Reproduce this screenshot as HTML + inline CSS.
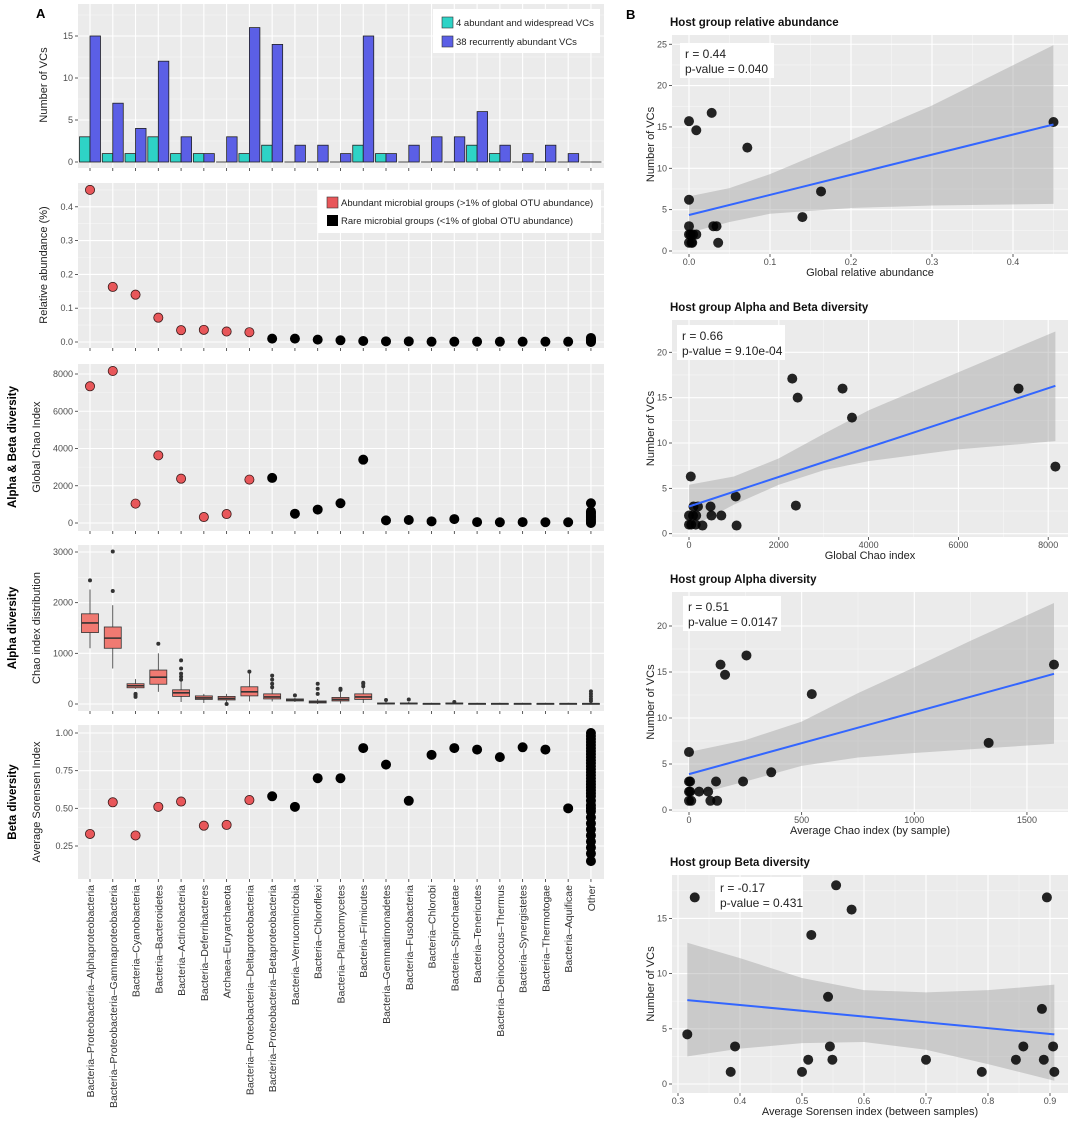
<!DOCTYPE html>
<html><head><meta charset="utf-8">
<style>
html,body{margin:0;padding:0;background:#fff;}
svg{display:block;font-family:"Liberation Sans",Arial,sans-serif;}
</style></head>
<body>
<svg id="fig" width="1080" height="1138" viewBox="0 0 1080 1138" xmlns="http://www.w3.org/2000/svg"></svg>
<script>
// ---------- DATA: panel A ----------
const categories=["Bacteria\u2013Proteobacteria\u2013Alphaproteobacteria","Bacteria\u2013Proteobacteria\u2013Gammaproteobacteria","Bacteria\u2013Cyanobacteria","Bacteria\u2013Bacteroidetes","Bacteria\u2013Actinobacteria","Bacteria\u2013Deferribacteres","Archaea\u2013Euryarchaeota","Bacteria\u2013Proteobacteria\u2013Deltaproteobacteria","Bacteria\u2013Proteobacteria\u2013Betaproteobacteria","Bacteria\u2013Verrucomicrobia","Bacteria\u2013Chloroflexi","Bacteria\u2013Planctomycetes","Bacteria\u2013Firmicutes","Bacteria\u2013Gemmatimonadetes","Bacteria\u2013Fusobacteria","Bacteria\u2013Chlorobi","Bacteria\u2013Spirochaetae","Bacteria\u2013Tenericutes","Bacteria\u2013Deinococcus\u2013Thermus","Bacteria\u2013Synergistetes","Bacteria\u2013Thermotogae","Bacteria\u2013Aquificae","Other"];
const abundantVCs=[3,1,1,3,1,1,0,1,2,0,0,0,2,1,0,0,0,2,1,0,0,0,0];
const recurrentVCs=[15,7,4,12,3,1,3,16,14,2,2,1,15,1,2,3,3,6,2,1,2,1,0];
const isAbundant=[1,1,1,1,1,1,1,1,0,0,0,0,0,0,0,0,0,0,0,0,0,0,0];
const relAbundance=[0.45,0.163,0.14,0.072,0.035,0.036,0.031,0.029,0.01,0.01,0.007,0.005,0.003,0.002,0.002,0.001,0.001,0.001,0.001,0.001,0.001,0.001];
const relAbundanceOther=[0,0.002,0.004,0.006,0.008,0.01,0.012];
const globalChao=[7340,8160,1040,3630,2380,320,480,2330,2420,500,720,1060,3400,140,160,90,210,50,40,50,40,40];
const globalChaoOther=[0,60,120,200,280,350,420,500,560,620,1060];
const boxQ1=[1410,1100,320,390,150,90,80,160,100,60,20,60,90,5,5,3,5,3,3,3,3,3,3];
const boxMed=[1600,1300,360,530,220,120,110,240,140,80,40,90,140,10,10,6,10,6,6,6,6,6,6];
const boxQ3=[1780,1520,400,670,280,160,150,340,200,100,60,130,200,20,20,12,20,12,12,12,12,12,12];
const boxLo=[1100,700,300,240,40,20,20,50,50,40,0,10,20,0,0,0,0,0,0,0,0,0,0];
const boxHi=[2260,1950,490,1000,450,200,200,620,300,120,100,250,320,40,40,25,40,25,25,25,25,25,30];
const boxOut=[[2440],[2230,3010],[140,180,200],[1190],[480,540,600,700,860],[],[0],[640],[330,400,480,560],[170],[200,300,400],[280,300],[350,400,420],[80],[90],[],[40],[],[],[],[],[],[60,100,150,200,250]];
const sorensen=[0.33,0.54,0.32,0.51,0.545,0.385,0.39,0.555,0.58,0.51,0.70,0.70,0.90,0.79,0.55,0.855,0.90,0.89,0.84,0.905,0.89,0.50];
const sorensenOther=[0.15,0.2,0.24,0.28,0.32,0.36,0.4,0.44,0.48,0.5,0.52,0.55,0.58,0.6,0.62,0.64,0.66,0.68,0.7,0.72,0.74,0.76,0.78,0.8,0.82,0.84,0.86,0.88,0.9,0.92,0.94,0.96,0.98,1.0];
// ---------- DATA: panel B ----------
const b1X=[0,0.009,0.028,0.072,0,0.163,0.14,0.45,0,0,0,0.003,0.005,0.009,0.03,0.034,0.036,0.002,0.004];
const b1Y=[15.7,14.6,16.7,12.5,6.2,7.2,4.1,15.6,3,2,1,1,2,2,3,3,1,2,1];
const b1Fit=[4.35,15.3];
const b1BandX=[0,0.05,0.1,0.2,0.3,0.45];
const b1BandLo=[2.2,3.5,4.5,5.2,5.5,5.7];
const b1BandHi=[6.6,7.6,9.3,13.4,17.6,24.9];
const b2X=[2300,3420,2420,3630,7340,8160,2380,1040,1060,40,100,200,480,500,720,160,0,0,50,150,300,90];
const b2Y=[17.1,16,15,12.8,16,7.4,3.1,4.1,0.9,6.3,3,3,3,2,2,2,2,1,1,1,0.9,2];
const b2Fit=[3,16.3];
const b2BandX=[0,1000,2000,3000,4000,6000,8160];
const b2BandLo=[0.6,3.2,5.4,7,8,9.3,10.2];
const b2BandHi=[5.4,6.3,8.3,11,13.6,17.8,22.3];
const b3X=[0,140,160,255,545,1620,1330,365,240,120,0,5,0,5,45,85,0,10,95,125];
const b3Y=[6.3,15.8,14.7,16.8,12.6,15.8,7.3,4.1,3.1,3.1,3.1,3.1,2,2,2,2,1,1,1,1];
const b3Fit=[3.9,14.8];
const b3BandX=[0,250,500,750,1000,1250,1620];
const b3BandLo=[1.5,3.1,4.8,5.7,6.2,6.6,7.2];
const b3BandHi=[6.3,7.6,9.6,12.7,15.5,18.4,22.5];
const b4X=[0.315,0.327,0.385,0.392,0.5,0.51,0.515,0.542,0.545,0.549,0.555,0.58,0.70,0.79,0.845,0.857,0.887,0.89,0.895,0.905,0.907];
const b4Y=[4.5,16.9,1.1,3.4,1.1,2.2,13.5,7.9,3.4,2.2,18,15.8,2.2,1.1,2.2,3.4,6.8,2.2,16.9,3.4,1.1];
const b4Fit=[7.6,4.5];
const b4BandX=[0.315,0.4,0.5,0.6,0.7,0.8,0.907];
const b4BandLo=[2.5,3.2,3.7,3.8,3.1,1.8,0.3];
const b4BandHi=[12.8,11.4,9.6,8.5,8.3,8.5,9.0];

// ---------- helpers ----------
const NS="http://www.w3.org/2000/svg";
const svg=document.getElementById('fig');
function el(tag,attrs,parent,txt){const e=document.createElementNS(NS,tag);for(const k in attrs)e.setAttribute(k,attrs[k]);if(txt!==undefined)e.textContent=txt;(parent||svg).appendChild(e);return e;}
const RED="#E8575A",CYAN="#2ED3C6",BLUE="#5B5FE6",BG="#EBEBEB";
const LX0=78,LX1=604,CX0=90,CSTEP=22.77;
const cx=i=>CX0+i*CSTEP;

function leftPanel(name,top,bot,yf,ticks,labels,minor){
  const g=el('g',{},svg);
  
  el('rect',{x:LX0,y:top,width:LX1-LX0,height:bot-top,fill:BG},g);
  minor.forEach(v=>{const y=yf(v);if(y>top&&y<bot)el('line',{x1:LX0,x2:LX1,y1:y,y2:y,stroke:"#F6F6F6","stroke-width":0.6},g);});
  ticks.forEach((v,i)=>{const y=yf(v);el('line',{x1:LX0,x2:LX1,y1:y,y2:y,stroke:"#fff","stroke-width":1.1},g);
    el('line',{x1:LX0-3,x2:LX0,y1:y,y2:y,stroke:"#333","stroke-width":0.8},g);
    const t=el('text',{x:LX0-5,y:y+3,"text-anchor":"end","font-size":9,fill:"#4D4D4D"},g,labels[i]);
    });
  categories.forEach((c,i)=>{el('line',{x1:cx(i),x2:cx(i),y1:top,y2:bot,stroke:"#fff","stroke-width":1.1},g);
    el('line',{x1:cx(i),x2:cx(i),y1:bot,y2:bot+3,stroke:"#333","stroke-width":0.8},g);});
  return g;
}
function ytitle(txt,x,yc,bold,name,size){const t=el('text',{x:x,y:yc,"text-anchor":"middle","font-size":size||11,"font-weight":bold?"bold":"normal",fill:bold?"#000":"#222",transform:`rotate(-90 ${x} ${yc})`},svg,txt);}
function dot(g,x,y,red,name){const c=el('circle',{cx:x,cy:y,r:4.6,fill:red?RED:"#000",stroke:red?"#3a1a1a":"#000","stroke-width":0.8},g);}

el('text',{x:36,y:18,"font-size":13,"font-weight":"bold"},svg,"A");
el('text',{x:626,y:19,"font-size":13,"font-weight":"bold"},svg,"B");

// ---- Panel 1: bars ----
(function(){
  const yf=v=>162-8.4*v;
  const g=leftPanel('vc-bar-panel',4,168,yf,[0,5,10,15],["0","5","10","15"],[2.5,7.5,12.5,17.5]);
  categories.forEach((c,i)=>{
    const y0=yf(0);
    if(abundantVCs[i]>0){
      const r1=el('rect',{x:cx(i)-10.5,y:yf(abundantVCs[i]),width:10.5,height:y0-yf(abundantVCs[i]),fill:CYAN,stroke:"#222","stroke-width":0.8},g);
      
    } else {
      const l1=el('line',{x1:cx(i)-10.5,x2:cx(i),y1:y0,y2:y0,stroke:"#222","stroke-width":0.8},g);
      
    }
    if(recurrentVCs[i]>0){
      const r2=el('rect',{x:cx(i),y:yf(recurrentVCs[i]),width:10.5,height:y0-yf(recurrentVCs[i]),fill:BLUE,stroke:"#222","stroke-width":0.8},g);
      
    } else {
      const l2=el('line',{x1:cx(i),x2:cx(i)+10.5,y1:y0,y2:y0,stroke:"#222","stroke-width":0.8},g);
      
    }
  });
  const lg=el('g',{},svg);
  el('rect',{x:433,y:9,width:167,height:44,fill:"#fff"},lg);
  el('rect',{x:442,y:17,width:11,height:11,fill:CYAN,stroke:"#333","stroke-width":0.6},lg);
  el('rect',{x:442,y:36,width:11,height:11,fill:BLUE,stroke:"#333","stroke-width":0.6},lg);
  el('text',{x:456,y:26,"font-size":9.5,fill:"#222"},lg,"4 abundant and widespread VCs");
  el('text',{x:456,y:45,"font-size":9.5,fill:"#222"},lg,"38 recurrently abundant VCs");
  ytitle("Number of VCs",47,85,false,'bar-y-title');
})();

// ---- Panel 2: relative abundance ----
(function(){
  const yf=v=>342-338*v;
  const g=leftPanel('rel-abundance-panel',183,348,yf,[0,0.1,0.2,0.3,0.4],["0.0","0.1","0.2","0.3","0.4"],[0.05,0.15,0.25,0.35,0.45]);
  relAbundance.forEach((v,i)=>dot(g,cx(i),yf(v),isAbundant[i],'rel-abund-point'));
  relAbundanceOther.forEach(v=>dot(g,cx(22),yf(v),0,'rel-abund-other-point'));
  const lg=el('g',{},svg);
  el('rect',{x:318,y:190,width:283,height:43,fill:"#fff"},lg);
  el('rect',{x:327,y:197,width:11,height:11,fill:RED,stroke:"#333","stroke-width":0.6},lg);
  el('rect',{x:327,y:215,width:11,height:11,fill:"#000"},lg);
  el('text',{x:341,y:206,"font-size":9.5,fill:"#222"},lg,"Abundant microbial groups (>1% of global OTU abundance)");
  el('text',{x:341,y:224,"font-size":9.5,fill:"#222"},lg,"Rare microbial groups (<1% of global OTU abundance)");
  ytitle("Relative abundance (%)",47,265,false,'rel-abund-y-title');
})();

// ---- Panel 3: global chao ----
(function(){
  const yf=v=>523-v*149/8000;
  const g=leftPanel('global-chao-panel',364,531,yf,[0,2000,4000,6000,8000],["0","2000","4000","6000","8000"],[1000,3000,5000,7000]);
  globalChao.forEach((v,i)=>dot(g,cx(i),yf(v),isAbundant[i],'global-chao-point'));
  globalChaoOther.forEach(v=>dot(g,cx(22),yf(v),0,'global-chao-other-point'));
  ytitle("Global Chao Index",40,447,false,'global-chao-y-title');
  ytitle("Alpha & Beta diversity",16,447,true,'alpha-beta-section-title',11.5);
})();

// ---- Panel 4: boxplots ----
(function(){
  const yf=v=>704-v*152/3000;
  const g=leftPanel('chao-box-panel',545,711,yf,[0,1000,2000,3000],["0","1000","2000","3000"],[500,1500,2500]);
  categories.forEach((c,i)=>{
    const x=cx(i),w=8.5;
    const bg=el('g',{},g);
    el('line',{x1:x,x2:x,y1:yf(boxLo[i]),y2:yf(boxHi[i]),stroke:"#333","stroke-width":0.8},bg);
    el('rect',{x:x-w,y:yf(boxQ3[i]),width:2*w,height:Math.max(1,yf(boxQ1[i])-yf(boxQ3[i])),fill:"#F07A72",stroke:"#333","stroke-width":0.8},bg);
    el('line',{x1:x-w,x2:x+w,y1:yf(boxMed[i]),y2:yf(boxMed[i]),stroke:"#333","stroke-width":1.6},bg);
    boxOut[i].forEach(o=>el('circle',{cx:x,cy:yf(o),r:2,fill:"#333"},bg));
  });
  ytitle("Chao index distribution",40,628,false,'chao-dist-y-title');
  ytitle("Alpha diversity",16,628,true,'alpha-section-title',11.5);
})();

// ---- Panel 5: sorensen ----
(function(){
  const yf=v=>846-(v-0.25)*150.67;
  const g=leftPanel('sorensen-panel',725,879,yf,[0.25,0.5,0.75,1.0],["0.25","0.50","0.75","1.00"],[0.375,0.625,0.875]);
  sorensen.forEach((v,i)=>dot(g,cx(i),yf(v),isAbundant[i],'sorensen-point'));
  sorensenOther.forEach(v=>dot(g,cx(22),yf(v),0,'sorensen-other-point'));
  ytitle("Average Sorensen Index",40,802,false,'sorensen-y-title');
  ytitle("Beta diversity",16,802,true,'beta-section-title',11.5);
  categories.forEach((c,i)=>{const x=cx(i)+4,y=885;
    const t=el('text',{x:x,y:y,"text-anchor":"end","font-size":10.5,fill:"#333",transform:`rotate(-90 ${x} ${y})`},svg,c);
    });
})();

// ---------- Panel B scatters ----------
function scatter(cfg){
  const g=el('g',{},svg);
  const {x0,x1,top,bot}=cfg;
  const xf=v=>cfg.xa+(v-cfg.xv0)*cfg.xs, yf=v=>cfg.ya-v*cfg.ys;
  el('rect',{x:x0,y:top,width:x1-x0,height:bot-top,fill:BG},g);
  cfg.xminor.forEach(v=>{const x=xf(v);if(x>x0&&x<x1)el('line',{x1:x,x2:x,y1:top,y2:bot,stroke:"#F6F6F6","stroke-width":0.6},g);});
  cfg.yminor.forEach(v=>{const y=yf(v);if(y>top&&y<bot)el('line',{x1:x0,x2:x1,y1:y,y2:y,stroke:"#F6F6F6","stroke-width":0.6},g);});
  cfg.xt.forEach((v,i)=>{const x=xf(v);el('line',{x1:x,x2:x,y1:top,y2:bot,stroke:"#fff","stroke-width":1.1},g);
    el('line',{x1:x,x2:x,y1:bot,y2:bot+3,stroke:"#333","stroke-width":0.8},g);
    el('text',{x:x,y:bot+11,"text-anchor":"middle","font-size":9,fill:"#4D4D4D"},g,cfg.xl[i]);});
  cfg.yt.forEach((v,i)=>{const y=yf(v);el('line',{x1:x0,x2:x1,y1:y,y2:y,stroke:"#fff","stroke-width":1.1},g);
    el('line',{x1:x0-3,x2:x0,y1:y,y2:y,stroke:"#333","stroke-width":0.8},g);
    el('text',{x:x0-5,y:y+3,"text-anchor":"end","font-size":9,fill:"#4D4D4D"},g,cfg.yl[i]);});
  let d="";cfg.bx.forEach((v,i)=>{d+=(i?"L":"M")+xf(v)+","+yf(cfg.bhi[i]);});
  for(let i=cfg.bx.length-1;i>=0;i--)d+="L"+xf(cfg.bx[i])+","+yf(cfg.blo[i]);
  const band=el('path',{d:d+"Z",fill:"#999","fill-opacity":0.4},g);
  cfg.px.forEach((v,i)=>{const c=el('circle',{cx:xf(v),cy:yf(cfg.py[i]),r:5,fill:"#000","fill-opacity":0.85},g);});
  const bx0=cfg.bx[0],bx1=cfg.bx[cfg.bx.length-1];
  const ln=el('line',{x1:xf(bx0),y1:yf(cfg.fit[0]),x2:xf(bx1),y2:yf(cfg.fit[1]),stroke:"#3366FF","stroke-width":2},g);
  const a=cfg.ann;el('rect',{x:a[0],y:a[1],width:a[2],height:a[3],fill:"#fff"},g);
  el('text',{x:a[0]+5,y:a[1]+15,"font-size":12,fill:"#222"},g,cfg.r);
  el('text',{x:a[0]+5,y:a[1]+30,"font-size":12,fill:"#222"},g,cfg.p);
  el('text',{x:670,y:top-9,"font-size":11.5,"font-weight":"bold",fill:"#111"},g,cfg.title);
  el('text',{x:(x0+x1)/2,y:bot+22,"text-anchor":"middle","font-size":11,fill:"#222"},g,cfg.xtitle);
  const yc=(top+bot)/2;el('text',{x:654,y:yc,"text-anchor":"middle","font-size":11,fill:"#222",transform:`rotate(-90 654 ${yc})`},g,"Number of VCs");
}
scatter({name:'scatter-rel-abundance',x0:672,x1:1068,top:35,bot:254,xa:689,xv0:0,xs:810,ya:251,ys:8.27,
  xt:[0,0.1,0.2,0.3,0.4],xl:["0.0","0.1","0.2","0.3","0.4"],xminor:[0.05,0.15,0.25,0.35,0.45],
  yt:[0,5,10,15,20,25],yl:["0","5","10","15","20","25"],yminor:[2.5,7.5,12.5,17.5,22.5],
  px:b1X,py:b1Y,fit:b1Fit,bx:b1BandX,blo:b1BandLo,bhi:b1BandHi,ann:[680,43,94,35],r:"r = 0.44",p:"p-value = 0.040",
  title:"Host group relative abundance",xtitle:"Global relative abundance"});
scatter({name:'scatter-global-chao',x0:672,x1:1068,top:320,bot:537,xa:689,xv0:0,xs:0.0449,ya:533.7,ys:9.07,
  xt:[0,2000,4000,6000,8000],xl:["0","2000","4000","6000","8000"],xminor:[1000,3000,5000,7000],
  yt:[0,5,10,15,20],yl:["0","5","10","15","20"],yminor:[2.5,7.5,12.5,17.5],
  px:b2X,py:b2Y,fit:b2Fit,bx:b2BandX,blo:b2BandLo,bhi:b2BandHi,ann:[677,325,108,35],r:"r = 0.66",p:"p-value = 9.10e-04",
  title:"Host group Alpha and Beta diversity",xtitle:"Global Chao index"});
scatter({name:'scatter-avg-chao',x0:672,x1:1068,top:592,bot:812,xa:689,xv0:0,xs:0.2253,ya:810,ys:9.2,
  xt:[0,500,1000,1500],xl:["0","500","1000","1500"],xminor:[250,750,1250],
  yt:[0,5,10,15,20],yl:["0","5","10","15","20"],yminor:[2.5,7.5,12.5,17.5],
  px:b3X,py:b3Y,fit:b3Fit,bx:b3BandX,blo:b3BandLo,bhi:b3BandHi,ann:[683,596,98,35],r:"r = 0.51",p:"p-value = 0.0147",
  title:"Host group Alpha diversity",xtitle:"Average Chao index (by sample)"});
scatter({name:'scatter-sorensen',x0:672,x1:1068,top:875,bot:1093,xa:678,xv0:0.3,xs:620,ya:1084,ys:11.04,
  xt:[0.3,0.4,0.5,0.6,0.7,0.8,0.9],xl:["0.3","0.4","0.5","0.6","0.7","0.8","0.9"],xminor:[0.35,0.45,0.55,0.65,0.75,0.85],
  yt:[0,5,10,15],yl:["0","5","10","15"],yminor:[2.5,7.5,12.5,17.5],
  px:b4X,py:b4Y,fit:b4Fit,bx:b4BandX,blo:b4BandLo,bhi:b4BandHi,ann:[715,877,88,35],r:"r = -0.17",p:"p-value = 0.431",
  title:"Host group Beta diversity",xtitle:"Average Sorensen index (between samples)"});
</script>
</body></html>
